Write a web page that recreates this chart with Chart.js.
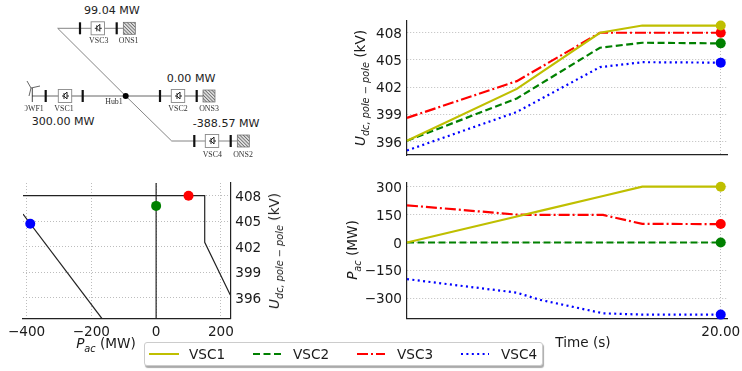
<!DOCTYPE html>
<html>
<head>
<meta charset="utf-8">
<script src="https://cdn.jsdelivr.net/npm/chart.js@4"></script>
<style>
  body { margin: 0; background: #fff; width: 742px; height: 371px; overflow: hidden; position: relative;
         font-family: "DejaVu Sans", sans-serif; color: #1a1a1a; }
  canvas { position: absolute; }
  .lbl { position: absolute; font-size: 13.6px; white-space: nowrap; transform: translate(-50%, -50%); }
  .lbl.rot { transform: translate(-50%, -50%) rotate(-90deg); }
  .lbl sub { font-size: 0.72em; line-height: 0; }
  #legend { position: absolute; left: 144px; top: 342px; width: 399px; height: 24px; box-sizing: border-box;
            border: 1px solid #ccc; border-radius: 3px; background: #fff; box-shadow: 1px 2px 1px #aaa; }
  #legend svg { position: absolute; left: 0; top: 0; }
  #legend span { position: absolute; top: 3px; font-size: 13.6px; }
  #diagram { position: absolute; left: 0; top: 0; }
  #diagram text { font-family: "Liberation Serif", serif; font-size: 7.9px; fill: #333; }
  #diagram text.mw { font-family: "DejaVu Sans", sans-serif; font-size: 11.1px; fill: #222; }
</style>
</head>
<body>
<svg id="diagram" width="300" height="175"></svg>
<canvas id="voltageChart"></canvas>
<canvas id="powerChart"></canvas>
<canvas id="droopChart"></canvas>

<div class="lbl rot" style="left:360px;top:88px"><i>U<sub>dc, pole &#8722; pole</sub></i> (kV)</div>
<div class="lbl rot" style="left:352px;top:250px"><i>P<sub>ac</sub></i> (MW)</div>
<div class="lbl rot" style="left:274px;top:251px"><i>U<sub>dc, pole &#8722; pole</sub></i> (kV)</div>
<div class="lbl" style="left:106px;top:343px"><i>P<sub>ac</sub></i> (MW)</div>
<div class="lbl" style="left:583px;top:342px">Time (s)</div>
<div id="legend"></div>

<script>
const names = ['VSC1', 'VSC2', 'VSC3', 'VSC4'];
const colors = ['#bfbf00', '#008000', '#ff0000', '#0000ff'];
const dashes = [[], [7, 3.5], [11, 3, 2, 3], [2, 3.4]];

// time series
const timeU = [0, 7, 12.3, 15, 20];
const vsc1U = [396.07, 401.8, 408, 408.8, 408.8];
const vsc2U = [396.07, 400.75, 406.35, 406.9, 406.83];
const vsc3U = [398.6, 402.66, 408, 408, 408];
const vsc4U = [395, 399.25, 404.2, 404.75, 404.7];

const timeP = [0, 7, 8.5, 12.5, 15, 20];
const vsc1P = [0, 140, 170, 250, 300, 300];
const vsc2P = [0, 0, 0, 0, 0, 0];
const vsc3P = [200, 150, 148, 148, 100, 99];
const vsc4P = [-197, -270, -309, -381, -388, -388];

// droop panel
const upperDroopP = [-411, 150, 150, 229];
const upperDroopU = [408, 408, 402.5, 396.3];
const lowerDroopP = [-411, -167];
const lowerDroopU = [405.84, 393.5];
const zeroDroopP = [0, 0];
const zeroDroopU = [393.5, 409.5];
const opP = [100, 0, -388.57];
const opU = [408, 406.8, 404.7];
const opColors = ['#ff0000', '#008000', '#0000ff'];

const voltTicks = [396, 399, 402, 405, 408];
const powerTicks = [-300, -150, 0, 150, 300];
const droopTicks = [-400, -200, 0, 200];
const timeTicks = [20];

const tickFont = { family: '"DejaVu Sans", sans-serif', size: 13.6 };
const gridOpts = { color: '#bdbdbd', lineWidth: 1, drawTicks: false };
const borderOpts = { color: '#222', width: 1.2, dash: [1, 2] };

// canvas text sits a bit high compared with the reference, nudge the tick labels down
Chart.register({
    id: 'tickNudge',
    beforeDraw(chart) {
        Object.values(chart.scales).forEach(scale => {
            scale.getLabelItems(chart.chartArea).forEach(item => {
                item.options.translation[1] += 1.6;
            });
        });
    }
});

function pts(xs, ys) {
    return xs.map((x, i) => ({ x: x, y: ys[i] }));
}

function setTicks(values) {
    return scale => { scale.ticks = values.map(v => ({ value: v })); };
}

function minusLabel(v) {
    return String(v).replace('-', '\u2212');
}

// fixed axis size, and no extra room for overflowing labels
function fixHeight(h) {
    return s => { s.height = h; s.paddingLeft = 0; s.paddingRight = 0; };
}

function fixWidth(w) {
    return s => { s.width = w; s.paddingTop = 0; s.paddingBottom = 0; };
}

function place(id, left, top, width, height) {
    const el = document.getElementById(id);
    el.width = width;
    el.height = height;
    el.style.left = left + 'px';
    el.style.top = top + 'px';
    return el.getContext('2d');
}

function seriesSet(xs, rows) {
    return rows.map((ys, i) => ({
        label: names[i],
        data: pts(xs, ys),
        showLine: true,
        borderColor: colors[i],
        backgroundColor: colors[i],
        borderWidth: 2.2,
        borderDash: dashes[i],
        pointBorderWidth: 0,
        pointRadius: c => (c.dataIndex === xs.length - 1 ? 5 : 0),
        clip: false
    }));
}

const baseOptions = {
    responsive: false,
    animation: false,
    plugins: { legend: { display: false }, tooltip: { enabled: false } }
};

// U_dc over time
new Chart(place('voltageChart', 365, 10, 377, 150), {
    type: 'scatter',
    data: { datasets: seriesSet(timeU, [vsc1U, vsc2U, vsc3U, vsc4U]) },
    options: {
        ...baseOptions,
        layout: { padding: { left: 0, right: 15, top: 11, bottom: 3 } },
        scales: {
            x: {
                type: 'linear', min: 0, max: 20.4,
                grid: gridOpts, border: borderOpts,
                ticks: { display: false },
                afterBuildTicks: setTicks(timeTicks),
                afterFit: fixHeight(0)
            },
            y: {
                min: 394.5, max: 409.3,
                grid: gridOpts, border: borderOpts,
                ticks: { font: tickFont, color: '#1a1a1a', padding: 5 },
                afterBuildTicks: setTicks(voltTicks),
                afterFit: fixWidth(42)
            }
        }
    }
});

// P_ac over time
new Chart(place('powerChart', 365, 173, 377, 170), {
    type: 'scatter',
    data: { datasets: seriesSet(timeP, [vsc1P, vsc2P, vsc3P, vsc4P]) },
    options: {
        ...baseOptions,
        layout: { padding: { left: 0, right: 15, top: 10, bottom: 0 } },
        scales: {
            x: {
                type: 'linear', min: 0, max: 20.4,
                grid: gridOpts, border: borderOpts,
                ticks: { font: tickFont, color: '#1a1a1a', padding: 4, maxRotation: 0,
                         callback: v => v.toFixed(2) },
                afterBuildTicks: setTicks(timeTicks),
                afterFit: fixHeight(24.3)
            },
            y: {
                min: -410, max: 320,
                grid: gridOpts, border: borderOpts,
                ticks: { font: tickFont, color: '#1a1a1a', padding: 5, callback: minusLabel },
                afterBuildTicks: setTicks(powerTicks),
                afterFit: fixWidth(42)
            }
        }
    }
});

// droop characteristics with the operating points
const droopLines = [[upperDroopP, upperDroopU], [lowerDroopP, lowerDroopU], [zeroDroopP, zeroDroopU]];
new Chart(place('droopChart', 0, 173, 275, 170), {
    type: 'scatter',
    data: {
        datasets: [
            {
                data: pts(opP, opU),
                backgroundColor: opColors,
                pointBorderWidth: 0,
                pointRadius: 5,
                clip: false,
                order: 0
            },
            ...droopLines.map(l => ({
                data: pts(l[0], l[1]),
                showLine: true,
                borderColor: '#222',
                borderWidth: 1.2,
                pointRadius: 0,
                order: 1
            }))
        ]
    },
    options: {
        ...baseOptions,
        layout: { padding: { left: 23, right: 0, top: 10, bottom: 0 } },
        scales: {
            x: {
                type: 'linear', min: -411, max: 229,
                grid: gridOpts, border: borderOpts,
                ticks: { font: tickFont, color: '#1a1a1a', padding: 4, maxRotation: 0, callback: minusLabel },
                afterBuildTicks: setTicks(droopTicks),
                afterFit: fixHeight(24.3)
            },
            y: {
                position: 'right',
                min: 393.5, max: 409.5,
                grid: gridOpts, border: borderOpts,
                ticks: { font: tickFont, color: '#1a1a1a', padding: 5 },
                afterBuildTicks: setTicks(voltTicks),
                afterFit: fixWidth(44.7)
            }
        }
    }
});

// legend
const legendSwatchX = [[4, 34], [108, 138], [212, 240], [316, 344]];
const legendTextX = [44, 148, 252, 356];
const legend = document.getElementById('legend');
let swatches = '<svg width="397" height="22">';
names.forEach((n, i) => {
    swatches += '<line x1="' + legendSwatchX[i][0] + '" x2="' + legendSwatchX[i][1] + '" y1="11" y2="11" stroke="' + colors[i] +
        '" stroke-width="2" stroke-dasharray="' + dashes[i].join(' ') + '"/>';
});
legend.innerHTML = swatches + '</svg>' +
    names.map((n, i) => '<span style="left:' + legendTextX[i] + 'px">' + n + '</span>').join('');

// network schematic, it is a drawing and carries no series
const svg = [];
function line(x1, y1, x2, y2, color, w) {
    svg.push('<line x1="' + x1 + '" y1="' + y1 + '" x2="' + x2 + '" y2="' + y2 + '" stroke="' + color + '" stroke-width="' + (w || 0.9) + '"/>');
}
function bar(x, y) {
    line(x, y - 6, x, y + 6, '#111', 2.2);
}
function converter(x, y) {
    svg.push('<rect x="' + (x - 6.7) + '" y="' + (y - 6.5) + '" width="13.4" height="13" fill="#fff" stroke="#888" stroke-width="0.9"/>');
    svg.push('<path d="M' + (x - 3) + ' ' + y + 'h2M' + (x - 1) + ' ' + (y - 3) + 'v6M' + (x - 1) + ' ' + (y - 1) + 'l3 -3v7l-3 -3M' + (x + 2) + ' ' + y + 'h2" fill="none" stroke="#222" stroke-width="1"/>');
}
function shore(x, y) {
    svg.push('<rect x="' + (x - 6) + '" y="' + (y - 6) + '" width="12" height="12" fill="url(#hatch)" stroke="#666" stroke-width="0.7"/>');
}
function label(x, y, t) {
    svg.push('<text x="' + x + '" y="' + y + '" text-anchor="middle">' + t + '</text>');
}
function power(x, y, t) {
    svg.push('<text class="mw" x="' + x + '" y="' + y + '">' + t + '</text>');
}

svg.push('<defs><pattern id="hatch" width="2.4" height="2.4" patternUnits="userSpaceOnUse" patternTransform="rotate(45)">' +
    '<rect width="2.4" height="2.4" fill="#ddd"/><line x1="0" y1="0" x2="2.4" y2="0" stroke="#444" stroke-width="1.2"/></pattern></defs>');
svg.push('<g style="filter:blur(0.3px)">');
line(57.7, 28.3, 123, 28.3, '#777');
line(57.7, 28.3, 125.7, 96, '#777');
line(125.7, 96, 171.7, 141, '#777');
line(171.7, 141, 237, 141, '#777');
line(32, 96, 203, 96, '#555');
bar(80, 28.3); converter(97.8, 28.3); bar(116.7, 28.3); shore(129.3, 28.3);
bar(45.7, 96); converter(65, 96); bar(82.7, 96); bar(160, 96); converter(178, 96); bar(196.7, 96); shore(209, 96);
bar(194.3, 141); converter(212, 141); bar(230.7, 141); shore(243.3, 141);
svg.push('<circle cx="125.7" cy="96" r="3" fill="#000"/>');
// wind turbine
line(32.3, 88, 32.3, 102, '#333');
line(31, 88, 27, 81, '#555');
line(31, 88, 40, 86, '#555');
line(31, 88, 29, 96, '#555');
label(98.7, 43, 'VSC3'); label(128.7, 43, 'ONS1');
label(33, 111, 'OWF1'); label(64, 111, 'VSC1'); label(114, 104.3, 'Hub1');
label(178, 111, 'VSC2'); label(209, 111, 'ONS3');
label(212.3, 156.7, 'VSC4'); label(243, 156.7, 'ONS2');
// the reference crops the first letter of OWF1
svg.push('<rect x="18" y="103" width="6.5" height="10" fill="#fff"/>');
svg.push('</g>');
power(84, 14, '99.04 MW');
power(166.7, 81.7, '0.00 MW');
power(31.7, 125, '300.00 MW');
power(192.7, 127.3, '-388.57 MW');
document.getElementById('diagram').innerHTML = svg.join('');
</script>
</body>
</html>
